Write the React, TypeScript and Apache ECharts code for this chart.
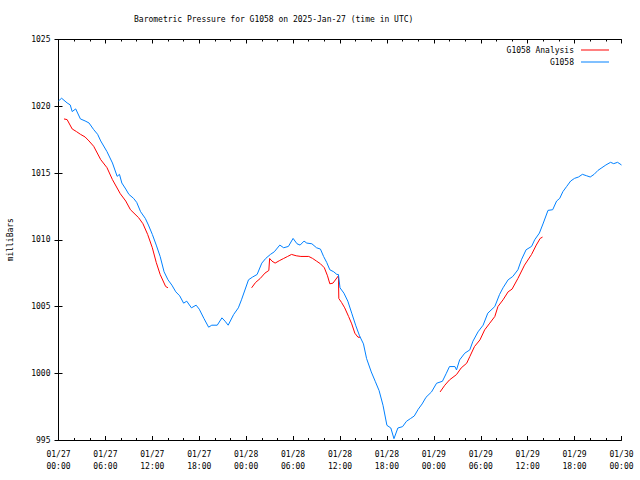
import React, { useEffect, useRef } from "react";
import * as echarts from "echarts";

const titleText = "Barometric Pressure for G1058 on 2025-Jan-27 (time in UTC)";
const yAxisName = "milliBars";
const seriesNames = ["G1058 Analysis", "G1058"];

// x tick labels, one every 6 hours (hours since 01/27 00:00)
const xTickLabels = [
  "01/27\n00:00", "01/27\n06:00", "01/27\n12:00", "01/27\n18:00",
  "01/28\n00:00", "01/28\n06:00", "01/28\n12:00", "01/28\n18:00",
  "01/29\n00:00", "01/29\n06:00", "01/29\n12:00", "01/29\n18:00",
  "01/30\n00:00",
];

// G1058 (observed), hours since 01/27 00:00 UTC
const obsHours = [
  0, 0.4, 1.1, 1.5, 1.75, 2.2, 2.8, 3.4, 3.9, 4.5, 5.0, 5.4, 6.2, 6.9, 7.5, 7.8, 8.1, 8.6, 9.0, 9.6,
  10.0, 10.5, 11.1, 11.5, 12.0, 12.5, 13.0, 13.5, 14.0, 14.5, 15.0, 15.5, 16.0, 16.4, 17.0, 17.6,
  18.0, 18.6, 19.2, 19.6, 20.3, 20.9, 21.3, 21.7, 22.4, 23.0, 23.4, 24.3, 24.8, 25.4, 26.0, 26.5,
  27.1, 27.6, 28.3, 28.8, 29.4, 30.0, 30.5, 30.9, 31.4, 31.75, 32.4, 33.0, 33.5, 33.9, 34.3, 34.7,
  35.2, 35.6, 35.8, 36.0, 36.5, 37.0, 37.5, 38.0, 38.5, 39.0, 39.4, 40.0, 40.5, 41.0, 41.5, 42.0,
  42.5, 42.9, 43.4, 44.0, 44.5, 45.0, 45.5, 46.0, 46.5, 47.0, 47.7, 48.35, 49.1, 49.6, 50.0, 50.7,
  50.9, 51.3, 51.95, 52.6, 53.0, 53.65, 54.3, 54.9, 55.8, 56.4, 56.85, 57.5, 58.1, 58.75, 59.2, 59.8,
  60.5, 60.9, 61.5, 62.0, 62.6, 63.2, 63.7, 64.1, 64.5, 65.0, 65.5, 66.0,
  66.5, 67.0, 67.5, 68.0, 68.5, 69.0, 69.5, 70.0, 70.6, 71.0, 71.5, 72.0,
];
const obsValues = [
  1020.4, 1020.6, 1020.25, 1020.1, 1019.6, 1019.8, 1019.05, 1018.9, 1018.75, 1018.25, 1017.9, 1017.4,
  1016.6, 1015.75, 1014.75, 1014.9, 1014.25, 1013.8, 1013.4, 1013.1, 1012.8, 1012.1, 1011.6, 1011.1,
  1010.4, 1009.6, 1008.75, 1007.6, 1007.0, 1006.6, 1006.1, 1005.8, 1005.25, 1005.4, 1004.9, 1005.1,
  1004.8, 1004.1, 1003.45, 1003.6, 1003.6, 1004.15, 1003.9, 1003.6, 1004.4, 1004.9, 1005.5, 1007.0,
  1007.2, 1007.4, 1008.25, 1008.6, 1008.9, 1009.1, 1009.6, 1009.4, 1009.5, 1010.1, 1009.7, 1009.6,
  1009.9, 1009.75, 1009.7, 1009.4, 1009.3, 1008.75, 1008.3, 1007.75, 1007.6, 1007.4, 1007.4, 1006.4,
  1006.0, 1005.4, 1004.5, 1003.6, 1002.8, 1002.2, 1001.1, 1000.1, 999.4, 998.7, 997.6, 996.1,
  995.9, 995.1, 995.9, 996.0, 996.4, 996.6, 996.8, 997.3, 997.7, 998.2, 998.6, 999.25, 999.4, 1000.0,
  1000.5, 1000.5, 1000.25, 1001.0, 1001.5, 1001.75, 1002.4, 1003.1, 1003.6, 1004.5, 1005.0, 1005.9,
  1006.4, 1007.0, 1007.25, 1007.75, 1008.5, 1009.25, 1009.5, 1010.0, 1010.5, 1011.25, 1012.2, 1012.25,
  1012.9, 1013.1, 1013.6, 1014.0, 1014.4, 1014.6,
  1014.7, 1014.9, 1014.8, 1014.7, 1014.9, 1015.2, 1015.4, 1015.6, 1015.8, 1015.7, 1015.8, 1015.6,
];

// G1058 Analysis, null = gap between segments
const anaHours = [
  0.7, 1.1, 1.75, 2.3, 2.8, 3.4, 3.9, 4.5, 5.4, 6.2, 6.9, 7.9, 8.6, 9.2, 10.25, 10.8, 11.4, 12.0,
  12.5, 13.0, 13.7, 14.0,
  19.0,
  24.7, 25.2, 25.8, 26.4, 26.9, 27.0, 27.3, 27.7, 28.3, 28.8, 29.3, 29.8, 30.4, 31.0, 32.0, 32.5,
  33.0, 33.5, 34.0, 34.4, 34.7, 35.1, 35.8, 35.85, 36.2, 36.6, 37.1, 37.5, 37.9, 38.3, 38.6,
  43.0,
  48.8, 49.4, 50.0, 50.9, 51.5, 52.2, 52.6, 53.2, 53.9, 54.5, 55.15, 55.8, 56.2, 56.85, 57.5, 58.0,
  58.75, 59.6, 60.5, 61.1, 61.6, 61.9,
];
const anaValues = [
  1019.05, 1019.0, 1018.3, 1018.1, 1017.9, 1017.7, 1017.4, 1017.0, 1016.0, 1015.4, 1014.5, 1013.45,
  1012.9, 1012.25, 1011.65, 1011.2, 1010.4, 1009.4, 1008.3, 1007.4, 1006.5, 1006.4,
  null,
  1006.4, 1006.8, 1007.1, 1007.5, 1007.7, 1008.6, 1008.4, 1008.25, 1008.45, 1008.6, 1008.75, 1008.9,
  1008.8, 1008.75, 1008.75, 1008.6, 1008.4, 1008.2, 1007.9, 1007.3, 1006.7, 1006.75, 1007.3, 1005.6,
  1005.3, 1004.9, 1004.25, 1003.7, 1003.0, 1002.7, 1002.7,
  null,
  998.6, 999.1, 999.5, 999.9, 1000.4, 1000.75, 1001.25, 1002.0, 1002.5, 1003.25, 1003.75, 1004.25,
  1005.0, 1005.5, 1006.1, 1006.3, 1007.1, 1008.1, 1008.9, 1009.6, 1010.1, 1010.2,
];

const FONT = "DejaVu Sans Mono";

export default function App() {
  const ref = useRef<HTMLDivElement>(null);
  useEffect(() => {
    if (!ref.current) return;
    const chart = echarts.init(ref.current, null, { renderer: "svg" });
    const obsData = obsHours.map((h, i) => [h, obsValues[i]]);
    const anaData = anaHours.map((h, i) => [h, anaValues[i] === null ? "-" : anaValues[i]]);
    const axisLine = { show: true, lineStyle: { color: "#000", width: 1 } };
    const xCommon = {
      type: "value" as const,
      min: 0,
      max: 72,
      interval: 6,
      axisLine,
      axisTick: { show: true, inside: true, length: 4, lineStyle: { color: "#000" } },
      minorTick: { show: true, splitNumber: 3, length: 2, lineStyle: { color: "#000" } },
      splitLine: { show: false },
      minorSplitLine: { show: false },
    };
    const yCommon = {
      type: "value" as const,
      min: 995,
      max: 1025,
      interval: 5,
      axisLine,
      axisTick: { show: true, inside: true, length: 4, lineStyle: { color: "#000" } },
      splitLine: { show: false },
    };
    chart.setOption({
      animation: false,
      backgroundColor: "#fff",
      textStyle: { fontFamily: FONT },
      title: {
        text: titleText,
        left: 134,
        top: 15,
        padding: 0,
        textStyle: { fontFamily: FONT, fontSize: 8, fontWeight: "normal", color: "#000" },
      },
      legend: {
        orient: "vertical",
        right: 31,
        top: 46,
        padding: 0,
        align: "right",
        itemGap: 4,
        itemWidth: 28,
        itemHeight: 9,
        icon: "path://M0,4 L28,4 L28,5 L0,5 Z",
        data: seriesNames,
        textStyle: { fontFamily: FONT, fontSize: 8, color: "#000", padding: [0, 2, 0, 0] },
      },
      grid: {
        left: 58.5,
        right: 18.5,
        top: 39.5,
        bottom: 40,
        containLabel: false,
        outerBoundsMode: "none",
      },
      xAxis: [
        {
          ...xCommon,
          position: "bottom",
          axisLabel: {
            show: true,
            fontFamily: FONT,
            fontSize: 8,
            color: "#000",
            lineHeight: 12,
            margin: 8,
            formatter: (v: number) => xTickLabels[Math.round(v / 6)] ?? "",
          },
        },
        { ...xCommon, position: "top", axisLabel: { show: false } },
      ],
      yAxis: [
        {
          ...yCommon,
          position: "left",
          name: yAxisName,
          nameLocation: "middle",
          nameRotate: 90,
          nameGap: 44,
          nameTextStyle: { fontFamily: FONT, fontSize: 8, color: "#000" },
          axisLabel: {
            show: true,
            fontFamily: FONT,
            fontSize: 8,
            color: "#000",
            margin: 8,
            formatter: (v: number) => String(v),
          },
        },
        { ...yCommon, position: "right", axisLabel: { show: false } },
      ],
      series: [
        {
          name: seriesNames[0],
          type: "line",
          data: anaData,
          showSymbol: false,
          symbol: "none",
          connectNulls: false,
          lineStyle: { color: "#ff0000", width: 1 },
          itemStyle: { color: "#ff0000" },
          z: 2,
        },
        {
          name: seriesNames[1],
          type: "line",
          data: obsData,
          showSymbol: false,
          symbol: "none",
          lineStyle: { color: "#0080ff", width: 1 },
          itemStyle: { color: "#0080ff" },
          z: 3,
        },
      ],
    });
    return () => chart.dispose();
  }, []);
  return (
    <div
      ref={ref}
      style={{ position: "fixed", left: 0, top: 0, width: 640, height: 480, background: "#fff" }}
    />
  );
}
